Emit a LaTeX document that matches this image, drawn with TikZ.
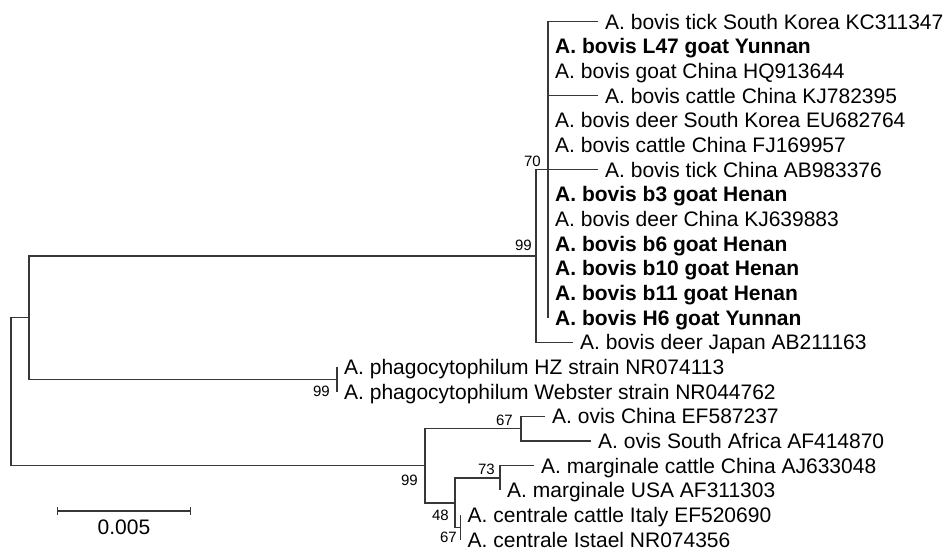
\documentclass[tikz,border=0pt]{standalone}
\usepackage{fontspec}
\setmainfont{Liberation Sans}
\usepackage{tikz}
\usetikzlibrary{arrows.meta,positioning,calc}
\definecolor{brgray}{RGB}{55,55,55}
\tikzset{
  br/.style={brgray, line width=1.4pt},
  tip/.style={anchor=base west, inner sep=0pt, xshift=7pt, yshift=-7.5pt,
      font=\fontsize{21}{24}\selectfont},
  tipb/.style={tip, font=\fontsize{21}{24}\selectfont\bfseries},
  bs/.style={inner sep=0pt, font=\fontsize{15}{17}\selectfont},
  sbar/.style={br, {Bar[width=8pt]}-{Bar[width=8pt]}},
}

\begin{document}
\begin{tikzpicture}[x=1pt, y=-1pt]
  \useasboundingbox (0,0) rectangle (952,552);
  % inner nodes
  \coordinate (root) at (11,391.7);
  \coordinate (nA)   at (29,317.7);
  \coordinate (nBov) at (536,256.0);
  \coordinate (n70)  at (548,169.6);
  \coordinate (nPh)  at (337,379.4);
  \coordinate (nB)   at (425,465.7);
  \coordinate (nOv)  at (521,428.7);
  \coordinate (n48)  at (455,502.8);
  \coordinate (nMa)  at (500,478.1);
  \coordinate (nCe)  at (460.5,527.4);
  % tips
  \coordinate (t1)  at (598,21.5);
  \coordinate (t2)  at (548,46.2);
  \coordinate (t3)  at (548,70.9);
  \coordinate (t4)  at (598,95.5);
  \coordinate (t5)  at (548,120.2);
  \coordinate (t6)  at (548,144.9);
  \coordinate (t7)  at (598,169.6);
  \coordinate (t8)  at (548,194.3);
  \coordinate (t9)  at (548,219.0);
  \coordinate (t10) at (548,243.6);
  \coordinate (t11) at (548,268.3);
  \coordinate (t12) at (548,293.0);
  \coordinate (t13) at (548,317.7);
  \coordinate (t14) at (573,342.3);
  \coordinate (t15) at (337,367.0);
  \coordinate (t16) at (337,391.7);
  \coordinate (t17) at (545,416.4);
  \coordinate (t18) at (591,441.1);
  \coordinate (t19) at (534,465.7);
  \coordinate (t20) at (500,490.4);
  \coordinate (t21) at (460.5,515.1);
  \coordinate (t22) at (460.5,539.8);

  % branches
  \draw[br] (root) |- (nA);  \draw[br] (root) |- (nB);
  \draw[br] (nA) |- (nBov);  \draw[br] (nA) |- (nPh);
  \draw[br] (nBov) |- (n70); \draw[br] (nBov) |- (t14);
  \foreach \t in {1,...,13}
    \draw[br] (n70) |- (t\t);
  \draw[br] (nPh) |- (t15);  \draw[br] (nPh) |- (t16);
  \draw[br] (nB) |- (nOv);   \draw[br] (nB) |- (n48);
  \draw[br] (nOv) |- (t17);  \draw[br] (nOv) |- (t18);
  \draw[br] (n48) |- (nMa);  \draw[br] (n48) |- (nCe);
  \draw[br] (nMa) |- (t19);  \draw[br] (nMa) |- (t20);
  \draw[br] (nCe) |- (t21);  \draw[br] (nCe) |- (t22);

  % taxa
  \node[tip]  (l1)  at (t1)  {A. bovis tick South Korea KC311347};
  \node[tipb] (l2)  at (t2)  {A. bovis L47 goat Yunnan};
  \node[tip]  (l3)  at (t3)  {A. bovis goat China HQ913644};
  \node[tip]  (l4)  at (t4)  {A. bovis cattle China KJ782395};
  \node[tip]  (l5)  at (t5)  {A. bovis deer South Korea EU682764};
  \node[tip]  (l6)  at (t6)  {A. bovis cattle China FJ169957};
  \node[tip]  (l7)  at (t7)  {A. bovis tick China AB983376};
  \node[tipb] (l8)  at (t8)  {A. bovis b3 goat Henan};
  \node[tip]  (l9)  at (t9)  {A. bovis deer China KJ639883};
  \node[tipb] (l10) at (t10) {A. bovis b6 goat Henan};
  \node[tipb] (l11) at (t11) {A. bovis b10 goat Henan};
  \node[tipb] (l12) at (t12) {A. bovis b11 goat Henan};
  \node[tipb] (l13) at (t13) {A. bovis H6 goat Yunnan};
  \node[tip]  (l14) at (t14) {A. bovis deer Japan AB211163};
  \node[tip]  (l15) at (t15) {A. phagocytophilum HZ strain NR074113};
  \node[tip]  (l16) at (t16) {A. phagocytophilum Webster strain NR044762};
  \node[tip]  (l17) at (t17) {A. ovis China EF587237};
  \node[tip]  (l18) at (t18) {A. ovis South Africa AF414870};
  \node[tip]  (l19) at (t19) {A. marginale cattle China AJ633048};
  \node[tip]  (l20) at (t20) {A. marginale USA AF311303};
  \node[tip]  (l21) at (t21) {A. centrale cattle Italy EF520690};
  \node[tip]  (l22) at (t22) {A. centrale Istael NR074356};

  % bootstrap values
  \node[bs, above left=2.5pt and 7pt of n70] (b70) {70};
  \node[bs, above left=5pt and 4pt of nBov] (bBov) {99};
  \node[bs, below left=6.5pt and 7pt of nPh] (bPh) {99};
  \node[bs, below left=9.5pt and 7pt of nB] (bB) {99};
  \node[bs, above left=2.5pt and 8pt of nOv] (bOv) {67};
  \node[bs, above left=3pt and 5pt of nMa] (bMa) {73};
  \node[bs, below left=7pt and 6pt of n48] (b48) {48};
  \node[bs, below left=4.5pt and 3.5pt of nCe] (bCe) {67};

  % scale bar
  \coordinate (s1) at (57,511);
  \coordinate (s2) at (191,511);
  \draw[sbar] (s1) -- (s2);
  \node[inner sep=0pt, anchor=north, font=\fontsize{21}{24}\selectfont]
    (sl) at ($(s1)!0.5!(s2)+(0,9)$) {0.005};
\end{tikzpicture}
\end{document}
